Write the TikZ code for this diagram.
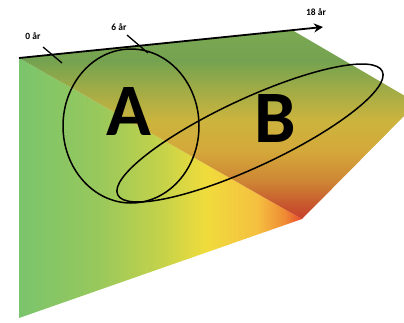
\documentclass[tikz,border=0pt]{standalone}
\usepackage{fontspec}
\setmainfont{Carlito}
\usetikzlibrary{arrows.meta}

\definecolor{lowA}{HTML}{7AC46C}
\definecolor{lowB}{HTML}{98C85C}
\definecolor{lowC}{HTML}{C4D24A}
\definecolor{lowD}{HTML}{F0DC3C}
\definecolor{lowE}{HTML}{F5C040}
\definecolor{lowF}{HTML}{EF8A34}
\definecolor{lowG}{HTML}{E64A2C}
\definecolor{upA}{HTML}{7AA852}
\definecolor{upB}{HTML}{74A250}
\definecolor{upC}{HTML}{A2AC46}
\definecolor{upD}{HTML}{CCB43E}
\definecolor{upE}{HTML}{D4A83A}
\definecolor{upF}{HTML}{CE8634}
\definecolor{upG}{HTML}{C8582E}
\definecolor{upH}{HTML}{C8402C}

\pgfdeclarehorizontalshading{lowface}{100bp}{color(0bp)=(lowA); color(25bp)=(lowA);
  color(39bp)=(lowB); color(50bp)=(lowC); color(58bp)=(lowD); color(67bp)=(lowE);
  color(72bp)=(lowF); color(75bp)=(lowG); color(100bp)=(lowG)}
\pgfdeclareverticalshading{upface}{100bp}{color(0bp)=(upH); color(25bp)=(upH);
  color(29bp)=(upG); color(35bp)=(upF); color(43bp)=(upE); color(51bp)=(upD);
  color(59bp)=(upC); color(67bp)=(upB); color(75bp)=(upA); color(100bp)=(upA)}

\tikzstyle{agelabel} = [font=\bfseries\fontsize{9.5}{9.5}\selectfont]
\tikzstyle{bigletter} = [font=\bfseries\fontsize{74}{74}\selectfont]
\tikzstyle{yearmark} = [line width=1.3pt]
\tikzstyle{group} = [line width=1.5pt]

\begin{document}
\begin{tikzpicture}[x=1pt,y=-1pt]
  \useasboundingbox (0,0) rectangle (404,322);
  \clip (0,0) rectangle (404,322);
  % corners of the folded plane
  \coordinate (O) at (19,58);
  \coordinate (T) at (292,30);
  \coordinate (R) at (417,103);
  \coordinate (K) at (302,219);
  \coordinate (L) at (19,318);
  \coordinate (E) at (323,27);
  \shade[shading=lowface] (O) -- (K) -- (L) -- cycle;
  \shade[shading=upface] (O) -- (T) -- (R) -- (K) -- cycle;
  % time axis
  \draw[line width=1.8pt,-{Stealth[length=9pt,width=9pt]}] (O) -- (E);
  \draw[yearmark] (43,47) -- (62,63);
  \draw[yearmark] (127,35) -- (148,53);
  \node[agelabel] (zero) at (33,36) {0 år};
  \node[agelabel] (six) at (119,27) {6 år};
  \node[agelabel] (eighteen) at (316,12) {18 år};
  % groups
  \draw[group] (131,126) ellipse [x radius=68, y radius=77];
  \draw[group] (250,133) ellipse [x radius=146, y radius=34, rotate=25];
  \node[bigletter] (A) at (129,112) {A};
  \node[bigletter] (B) at (275,119) {B};
\end{tikzpicture}
\end{document}
